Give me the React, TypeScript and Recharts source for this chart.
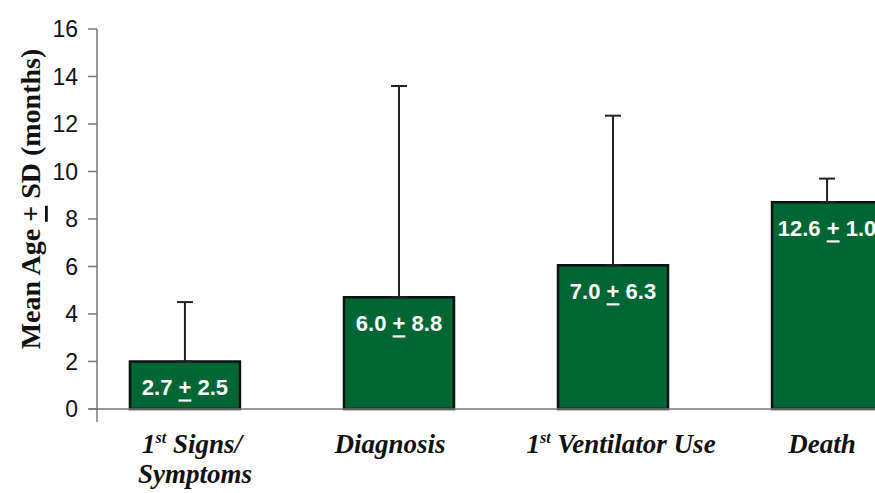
import React from 'react';
import { BarChart, Bar, XAxis, YAxis, ErrorBar, LabelList, ReferenceLine } from 'recharts';

// Values
const categories = ['1st Signs/\nSymptoms', 'Diagnosis', '1st Ventilator Use', 'Death'];
const barHeights = [2.0, 4.7, 6.05, 8.7];
const sdErrors = [2.5, 8.9, 6.3, 1.0];
const labelMeans = ['2.7', '6.0', '7.0', '12.6'];
const labelSds = ['2.5', '8.8', '6.3', '1.0'];
const yTicks = [0, 2, 4, 6, 8, 10, 12, 14, 16];

const data = categories.map((name, i) => ({
  idx: i,
  name,
  value: barHeights[i],
  err: [0, sdErrors[i]],
  mean: labelMeans[i],
  sd: labelSds[i],
}));

const GREEN = '#006633';
// small horizontal nudges of the category labels, as in the original slide
const labelShift = [7, -9, 8, -5];

// "1st" -> 1 with superscript st
const renderLine = (line: string) => {
  if (line.startsWith('1st')) {
    return (
      <>
        <tspan>1</tspan>
        <tspan dy={-10} fontSize={16}>st</tspan>
        <tspan dy={10}>{line.slice(3)}</tspan>
      </>
    );
  }
  return line;
};

const CategoryTick = (props: any) => {
  const { x, y, payload } = props;
  const cat = categories[payload.value];
  if (cat === undefined) return null;
  const lines = cat.split('\n');
  return (
    <g>
      {lines.map((ln, k) => (
        <text
          key={k}
          x={x + labelShift[payload.value] + (k === 1 ? 3 : 0)}
          y={y + 31 + k * 30}
          textAnchor="middle"
          fontFamily="'Liberation Serif', serif"
          fontWeight="bold"
          fontStyle="italic"
          fontSize={27}
          fill="#111"
        >
          {renderLine(ln)}
        </text>
      ))}
    </g>
  );
};

const BarText = (props: any) => {
  const { x, y, width, index } = props;
  const d = data[index];
  return (
    <text
      x={x + width / 2}
      y={y + 26}
      textAnchor="middle"
      dominantBaseline="central"
      fontFamily="'Liberation Sans', Arial, sans-serif"
      fontWeight="bold"
      fontSize={22}
      fill="#fff"
    >
      {d.mean} <tspan style={{ textDecoration: 'underline' }}>+</tspan> {d.sd}
    </text>
  );
};

const YTitle = () => (
  <text
    x={30}
    y={199}
    transform="rotate(-90, 30, 199)"
    textAnchor="middle"
    dominantBaseline="central"
    fontFamily="'Liberation Serif', serif"
    fontWeight="bold"
    fontSize={28}
    fill="#111"
  >
    Mean Age <tspan style={{ textDecoration: 'underline' }}>+</tspan> SD (months)
  </text>
);

export default function App() {
  return (
    <div style={{ position: 'absolute', left: 0, top: 0, width: 875, height: 493, overflow: 'hidden', background: '#fff' }}>
      <BarChart width={875} height={493} data={data} margin={{ top: 29, right: 0, bottom: 0, left: 0 }}>
        <XAxis
          dataKey="idx"
          type="number"
          domain={[-0.411, 3.224]}
          allowDataOverflow
          ticks={[0, 1, 2, 3]}
          interval={0}
          axisLine={false}
          tickLine={false}
          tickSize={0}
          tickMargin={0}
          height={71}
          tick={<CategoryTick />}
        />
        <YAxis
          type="number"
          domain={[-0.55, 16]}
          allowDataOverflow
          ticks={yTicks}
          interval={0}
          width={97}
          tickSize={9}
          tickMargin={10}
          axisLine={{ stroke: '#777', strokeWidth: 1.5 }}
          tickLine={{ stroke: '#777', strokeWidth: 1.5 }}
          tick={{ fontFamily: "'Liberation Sans', Arial, sans-serif", fontSize: 23, fill: '#111' }}
          label={<YTitle />}
        />
        <ReferenceLine
          segment={[{ x: -0.449, y: 0 }, { x: 3.224, y: 0 }]}
          ifOverflow="visible"
          stroke="#777"
          strokeWidth={1.5}
        />
        <Bar dataKey="value" fill={GREEN} stroke="#111" strokeWidth={2.5} barSize={110} isAnimationActive={false}>
          <ErrorBar dataKey="err" direction="y" width={8} stroke="#222" strokeWidth={2} />
          <LabelList dataKey="mean" content={<BarText />} />
        </Bar>
      </BarChart>
    </div>
  );
}
